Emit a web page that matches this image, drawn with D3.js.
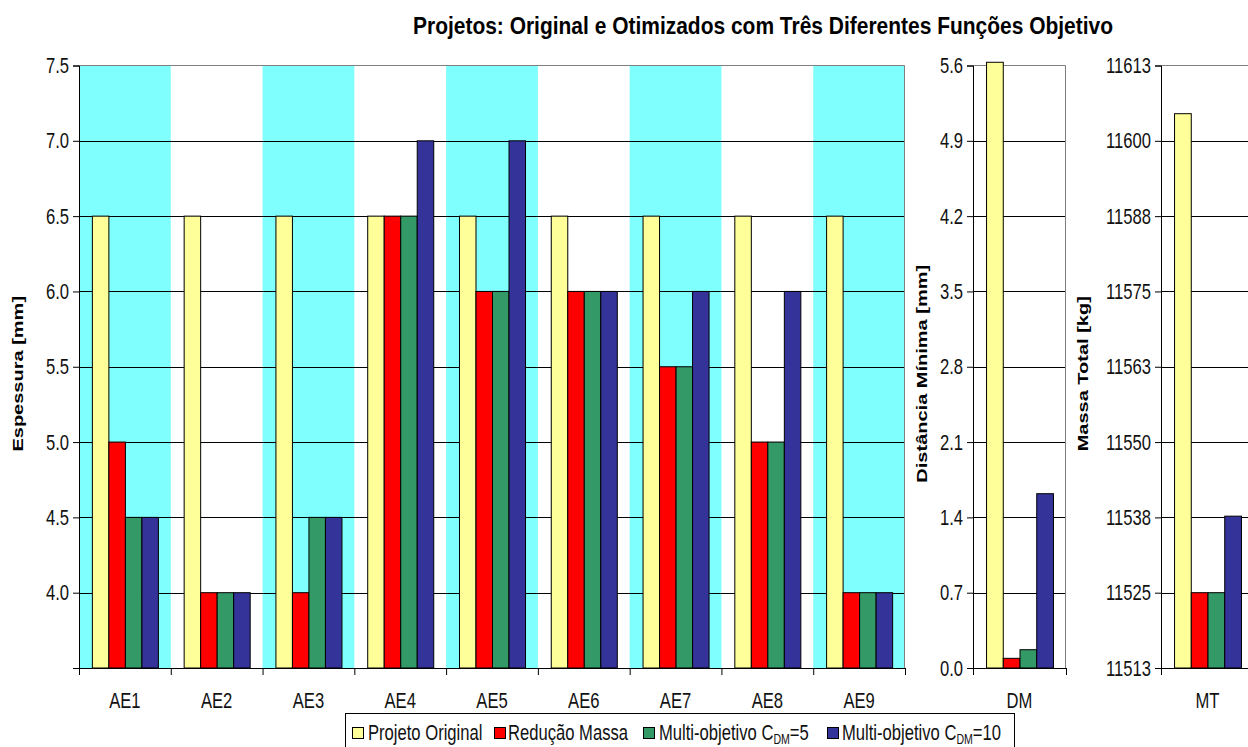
<!DOCTYPE html>
<html>
<head>
<meta charset="utf-8">
<script src="https://cdn.jsdelivr.net/npm/d3@7"></script>
<style>
  html, body { margin: 0; padding: 0; background: #fff; }
  svg { display: block; font-family: "Liberation Sans", Arial, sans-serif; }
</style>
</head>
<body>
<svg id="chart" width="1248" height="747"></svg>
<script>
// ---- data ----
const categories = ["AE1", "AE2", "AE3", "AE4", "AE5", "AE6", "AE7", "AE8", "AE9"];
const seriesKeys = ["original", "reducao", "multi5", "multi10"];
const seriesColors = ["#FFFF99", "#FF0000", "#339966", "#333399"];

const projetoOriginal = [6.5, 6.5, 6.5, 6.5, 6.5, 6.5, 6.5, 6.5, 6.5];
const reducaoMassa    = [5.0, 4.0, 4.0, 6.5, 6.0, 6.0, 5.5, 5.0, 4.0];
const multiObjetivo5  = [4.5, 4.0, 4.5, 6.5, 6.0, 6.0, 5.5, 5.0, 4.0];
const multiObjetivo10 = [4.5, 4.0, 4.5, 7.0, 7.0, 6.0, 6.0, 6.0, 4.0];

const dmCategory = ["DM"];
const dmValues = [5.63, 0.09, 0.17, 1.62];   // Distância Mínima [mm]
const mtCategory = ["MT"];
const mtValues = [11604.5, 11525, 11525, 11537.7]; // Massa Total [kg]

const espTicks = [3.5, 4.0, 4.5, 5.0, 5.5, 6.0, 6.5, 7.0, 7.5];
const dmTicks = [0.0, 0.7, 1.4, 2.1, 2.8, 3.5, 4.2, 4.9, 5.6];
const mtTicks = [11512.5, 11525, 11537.5, 11550, 11562.5, 11575, 11587.5, 11600, 11612.5];
const mtTickLabels = ["11513", "11525", "11538", "11550", "11563", "11575", "11588", "11600", "11613"];

const legendLabels = [
  { main: "Projeto Original" },
  { main: "Redução Massa" },
  { main: "Multi-objetivo C", sub: "DM", tail: "=5" },
  { main: "Multi-objetivo C", sub: "DM", tail: "=10" }
];

// ---- layout ----
const SQ = 0.755;          // horizontal squeeze of text glyphs
const plotTop = 65.5, plotBottom = 668;
const svg = d3.select("#chart");

const panels = [
  { x0: 79, x1: 905, cats: categories, domain: [3.5, 7.5], ticks: espTicks,
    fmt: d => d === 3.5 ? "" : d.toFixed(1), bands: true,
    rows: categories.map((c, i) => [projetoOriginal[i], reducaoMassa[i], multiObjetivo5[i], multiObjetivo10[i]]),
    label: "Espessura [mm]", labelX: 18 },
  { x0: 973, x1: 1066, cats: dmCategory, domain: [0, 5.6], ticks: dmTicks,
    fmt: d => d.toFixed(1), rows: [dmValues],
    label: "Distância Mínima [mm]", labelX: 922 },
  { x0: 1161, x1: 1254, cats: mtCategory, domain: [11512.5, 11612.5], ticks: mtTicks,
    fmt: d => mtTickLabels[mtTicks.indexOf(d)], rows: [mtValues],
    label: "Massa Total [kg]", labelX: 1083 }
];

function squeezeTicks(g, dx) {
  g.selectAll(".tick text")
    .attr("x", 0)
    .attr("transform", `translate(${dx},0) scale(${SQ},1)`)
    .style("font-size", "22px")
    .attr("fill", "#111");
}

panels.forEach(p => {
  const x = d3.scaleBand().domain(p.cats).range([p.x0, p.x1]).paddingInner(0).paddingOuter(0);
  const xs = d3.scaleBand().domain(seriesKeys).range([0, x.bandwidth()]).paddingInner(0).paddingOuter(0.78);
  const y = d3.scaleLinear().domain(p.domain).range([plotBottom, plotTop]);
  const g = svg.append("g");

  // plot area background and alternating bands
  g.append("rect").attr("x", p.x0).attr("y", plotTop).attr("width", p.x1 - p.x0).attr("height", plotBottom - plotTop)
    .attr("fill", "#fff");
  if (p.bands) {
    g.selectAll("rect.band").data(p.cats.filter((c, i) => i % 2 === 0)).join("rect")
      .attr("class", "band")
      .attr("x", d => x(d)).attr("y", plotTop)
      .attr("width", x.bandwidth()).attr("height", plotBottom - plotTop)
      .attr("fill", "#80FFFF");
  }

  // gridlines
  g.append("g").selectAll("line").data(p.ticks.filter(t => t > p.domain[0] && t < p.domain[1])).join("line")
    .attr("x1", p.x0).attr("x2", p.x1)
    .attr("y1", d => Math.round(y(d)) + 0.5).attr("y2", d => Math.round(y(d)) + 0.5)
    .attr("stroke", "#000").attr("stroke-width", 1);

  // plot border (top and right)
  g.append("path")
    .attr("d", `M${p.x0},${plotTop}H${p.x1 - 0.5}V${plotBottom}`)
    .attr("fill", "none").attr("stroke", "#808080").attr("stroke-width", 1);

  // bars
  const cg = g.selectAll("g.cat").data(p.cats.map((c, i) => ({ c, vals: p.rows[i] }))).join("g")
    .attr("class", "cat")
    .attr("transform", d => `translate(${x(d.c)},0)`);
  cg.selectAll("rect").data(d => d.vals.map((v, k) => ({ v, k }))).join("rect")
    .attr("x", d => xs(seriesKeys[d.k]) + 0.5)
    .attr("width", xs.bandwidth())
    .attr("y", d => y(d.v))
    .attr("height", d => y(p.domain[0]) - y(d.v))
    .attr("fill", d => seriesColors[d.k])
    .attr("stroke", "#000").attr("stroke-width", 1);

  // y axis
  const ya = g.append("g").attr("transform", `translate(${p.x0},0)`)
    .call(d3.axisLeft(y).tickValues(p.ticks).tickSize(6).tickPadding(10).tickFormat(p.fmt));
  ya.select(".domain").attr("stroke", "#000");
  ya.selectAll(".tick line").attr("stroke", "#000");
  squeezeTicks(ya, -10);

  // x axis: boundary ticks
  const xb = d3.scaleLinear().domain([0, p.cats.length]).range([p.x0, p.x1]);
  const xa = g.append("g").attr("transform", `translate(0,${plotBottom})`)
    .call(d3.axisBottom(xb).tickValues(d3.range(p.cats.length + 1)).tickSize(7).tickFormat(""));
  xa.select(".domain").attr("stroke", "#000");
  xa.selectAll(".tick line").attr("stroke", "#000");

  // x axis: category labels
  const xl = g.append("g").attr("transform", `translate(0,${plotBottom})`)
    .call(d3.axisBottom(x).tickSize(0).tickPadding(0));
  xl.select(".domain").remove();
  xl.selectAll(".tick text")
    .attr("y", 0).attr("dy", 0)
    .attr("transform", `translate(0,40) scale(${SQ},1)`)
    .style("font-size", "22px").attr("fill", "#111");

  // axis title
  svg.append("text")
    .attr("transform", `translate(${p.labelX},${(plotTop + plotBottom) / 2 + 7}) rotate(-90) scale(1,${SQ})`)
    .attr("text-anchor", "middle").attr("dy", "0.35em")
    .style("font-size", "20px").style("font-weight", "bold")
    .text(p.label);
});

// title
svg.append("text")
  .attr("x", 413).attr("y", 34)
  .attr("textLength", 700).attr("lengthAdjust", "spacingAndGlyphs")
  .style("font-size", "23px").style("font-weight", "bold")
  .text("Projetos: Original e Otimizados com Três Diferentes Funções Objetivo");

// legend
const lg = svg.append("g");
lg.append("rect").attr("x", 345.5).attr("y", 713.5).attr("width", 669).attr("height", 45)
  .attr("fill", "#fff").attr("stroke", "#000").attr("stroke-width", 1);
const sqX = [352, 494, 643, 827];
const txX = [368, 508, 659, 842];
legendLabels.forEach((l, i) => {
  lg.append("rect").attr("x", sqX[i] + 0.5).attr("y", 727.5).attr("width", 11).attr("height", 11)
    .attr("fill", seriesColors[i]).attr("stroke", "#000").attr("stroke-width", 1);
  const t = lg.append("text")
    .attr("transform", `translate(${txX[i]},740) scale(${SQ},1)`)
    .style("font-size", "22px").attr("fill", "#111");
  t.append("tspan").text(l.main);
  if (l.sub) {
    t.append("tspan").attr("dy", 4).style("font-size", "14px").text(l.sub);
    t.append("tspan").attr("dy", -4).text(l.tail);
  }
});
</script>
</body>
</html>
